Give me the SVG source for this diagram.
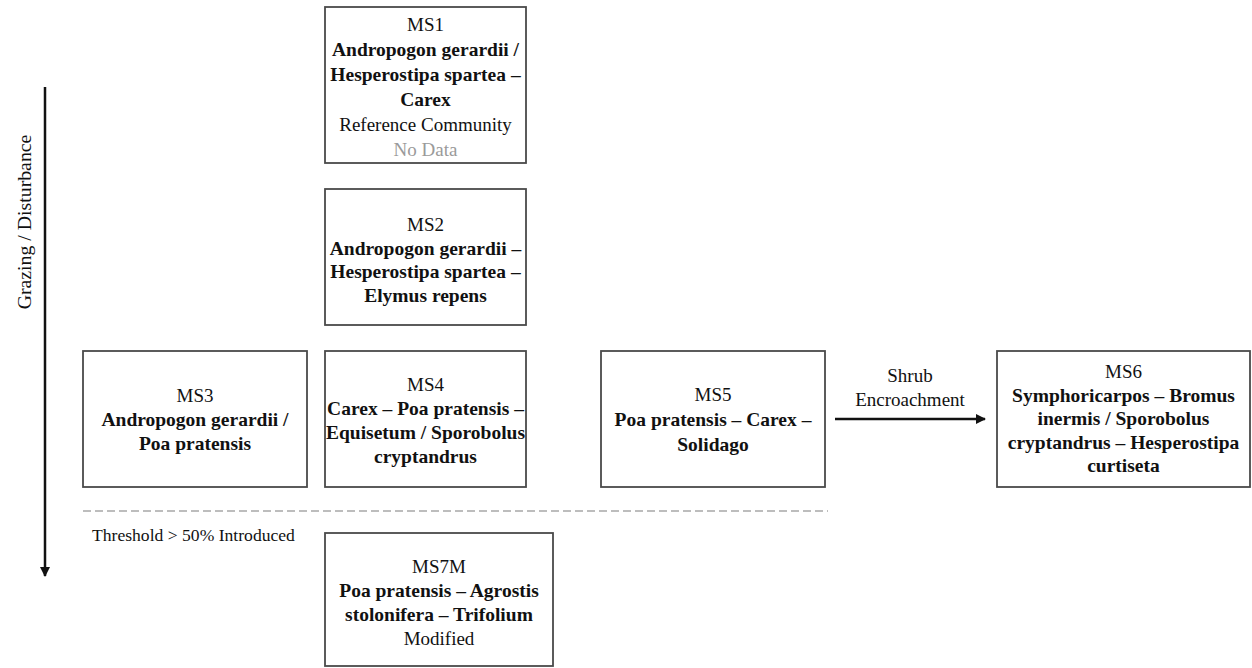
<svg xmlns="http://www.w3.org/2000/svg" width="1252" height="668" viewBox="0 0 1252 668">
  <defs>
    <marker id="head" viewBox="0 0 10 10" refX="9" refY="5" markerWidth="10" markerHeight="10" markerUnits="userSpaceOnUse" orient="auto">
      <path d="M0,0 L10,5 L0,10 Z" fill="#111"/>
    </marker>
    <style>
      .box { fill: #fff; stroke: #4a4a4a; stroke-width: 1.8; }
      .t { font-family: "Liberation Serif", "Times New Roman", serif; font-size: 19px; fill: #111; text-anchor: middle; }
      .b { font-weight: bold; font-size: 19.5px; }
      .nd { fill: #9a9a9a; }
      .axis { stroke: #111; stroke-width: 2.5; fill: none; }
      .thr { stroke: #bdbdbd; stroke-width: 2; stroke-dasharray: 8 4; fill: none; }
    </style>
  </defs>
  <rect width="1252" height="668" fill="#fff"/>

  <!-- disturbance axis -->
  <g id="axis">
    <line class="axis" x1="45" y1="87" x2="45" y2="576" marker-end="url(#head)"/>
    <text class="t" transform="translate(31,222) rotate(-90)" style="font-size:19.8px">Grazing / Disturbance</text>
  </g>

  <!-- threshold between native and modified states -->
  <g id="threshold">
    <line class="thr" x1="83" y1="511" x2="828" y2="511"/>
    <text class="t" x="92" y="541" style="text-anchor:start;font-size:17.6px">Threshold &gt; 50% Introduced</text>
  </g>

  <g id="MS1">
    <rect class="box" x="325" y="7" width="201" height="156"/>
    <text class="t" x="425.5" y="31">MS1</text>
    <text class="t b" x="425.5" y="56">Andropogon gerardii /</text>
    <text class="t b" x="425.5" y="81">Hesperostipa spartea –</text>
    <text class="t b" x="425.5" y="106">Carex</text>
    <text class="t" x="425.5" y="131">Reference Community</text>
    <text class="t nd" x="425.5" y="156">No Data</text>
  </g>

  <g id="MS2">
    <rect class="box" x="325" y="189" width="201" height="136"/>
    <text class="t" x="425.5" y="231">MS2</text>
    <text class="t b" x="425.5" y="255">Andropogon gerardii –</text>
    <text class="t b" x="425.5" y="278">Hesperostipa spartea –</text>
    <text class="t b" x="425.5" y="302">Elymus repens</text>
  </g>

  <g id="MS3">
    <rect class="box" x="83" y="351" width="224" height="136"/>
    <text class="t" x="195" y="402">MS3</text>
    <text class="t b" x="195" y="426">Andropogon gerardii /</text>
    <text class="t b" x="195" y="450">Poa pratensis</text>
  </g>

  <g id="MS4">
    <rect class="box" x="325" y="351" width="201" height="136"/>
    <text class="t" x="425.5" y="391">MS4</text>
    <text class="t b" x="425.5" y="415">Carex – Poa pratensis –</text>
    <text class="t b" x="425.5" y="439">Equisetum / Sporobolus</text>
    <text class="t b" x="425.5" y="463">cryptandrus</text>
  </g>

  <g id="MS5">
    <rect class="box" x="601" y="351" width="224" height="136"/>
    <text class="t" x="713" y="401">MS5</text>
    <text class="t b" x="713" y="426">Poa pratensis – Carex –</text>
    <text class="t b" x="713" y="451">Solidago</text>
  </g>

  <g id="MS6">
    <rect class="box" x="997" y="351" width="253" height="136"/>
    <text class="t" x="1123.5" y="378">MS6</text>
    <text class="t b" x="1123.5" y="401.5">Symphoricarpos – Bromus</text>
    <text class="t b" x="1123.5" y="425">inermis / Sporobolus</text>
    <text class="t b" x="1123.5" y="448.5">cryptandrus – Hesperostipa</text>
    <text class="t b" x="1123.5" y="472">curtiseta</text>
  </g>

  <g id="MS7M">
    <rect class="box" x="325" y="533" width="228" height="133"/>
    <text class="t" x="439" y="573">MS7M</text>
    <text class="t b" x="439" y="597">Poa pratensis – Agrostis</text>
    <text class="t b" x="439" y="621">stolonifera – Trifolium</text>
    <text class="t" x="439" y="645">Modified</text>
  </g>

  <!-- transitions -->
  <g id="connectors">
    <line class="axis" x1="835" y1="419" x2="985" y2="419" marker-end="url(#head)"/>
    <text class="t" x="910" y="382">Shrub</text>
    <text class="t" x="910" y="406">Encroachment</text>
  </g>
</svg>
